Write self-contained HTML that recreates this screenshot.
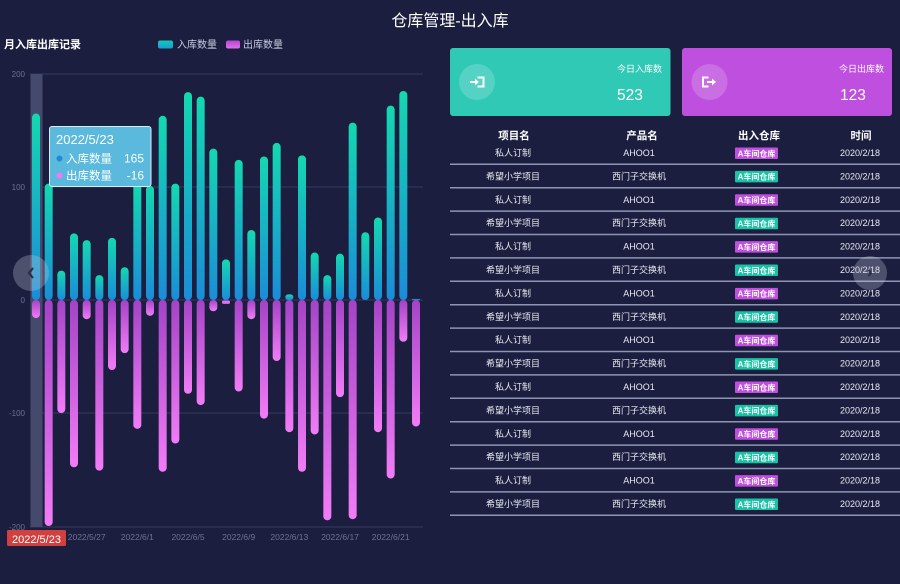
<!DOCTYPE html>
<html><head><meta charset="utf-8">
<style>
html,body{margin:0;padding:0;background:#1b1e3f;}
svg{display:block;font-family:"Liberation Sans","Noto Sans CJK SC",sans-serif;}
</style></head>
<body>
<svg width="900" height="584" viewBox="0 0 900 584" xmlns="http://www.w3.org/2000/svg">
<defs>
<linearGradient id="pg" x1="0" y1="0" x2="0" y2="1"><stop offset="0" stop-color="#14d8b0"/><stop offset="1" stop-color="#1a8cd8"/></linearGradient>
<linearGradient id="ng" x1="0" y1="0" x2="0" y2="1"><stop offset="0" stop-color="#a443c6"/><stop offset="1" stop-color="#f27cf7"/></linearGradient>
<linearGradient id="lg1" x1="0" y1="0" x2="0" y2="1"><stop offset="0" stop-color="#14c8b8"/><stop offset="1" stop-color="#1a9cd0"/></linearGradient>
<linearGradient id="lg2" x1="0" y1="0" x2="0" y2="1"><stop offset="0" stop-color="#b048d0"/><stop offset="1" stop-color="#e070ee"/></linearGradient>
</defs>
<rect width="900" height="584" fill="#1b1e3f"/>

<text x="450" y="26" fill="#ffffff" font-size="16" text-anchor="middle">仓库管理-出入库</text>
<text x="4" y="48" fill="#ffffff" font-size="11" font-weight="bold">月入库出库记录</text>
<rect x="158" y="40.5" width="15" height="8" rx="2" fill="url(#lg1)"/>
<text x="177" y="48" fill="#c9cce0" font-size="10">入库数量</text>
<rect x="226" y="40.5" width="14" height="8" rx="2" fill="url(#lg2)"/>
<text x="243" y="48" fill="#c9cce0" font-size="10">出库数量</text>

<!-- grid -->
<g stroke="#363a5e" stroke-width="1">
<line x1="30" y1="74" x2="423" y2="74"/>
<line x1="30" y1="187" x2="423" y2="187"/>
<line x1="30" y1="300" x2="423" y2="300"/>
<line x1="30" y1="413" x2="423" y2="413"/>
<line x1="30" y1="527" x2="423" y2="527"/>
</g>
<g fill="#6b7090" font-size="8" text-anchor="end">
<text x="25" y="77">200</text>
<text x="25" y="190">100</text>
<text x="25" y="303">0</text>
<text x="25" y="416">-100</text>
<text x="25" y="530">-200</text>
</g>
<rect x="30.5" y="74" width="12" height="453" fill="#454a6c"/>

<!-- positive bars -->
<g fill="url(#pg)">
<rect x="32" y="113.55" width="8" height="186.45" rx="4"/>
<rect x="44.67" y="183.61" width="8" height="116.39" rx="4"/>
<rect x="57.33" y="270.62" width="8" height="29.38" rx="4"/>
<rect x="70" y="233.33" width="8" height="66.67" rx="4"/>
<rect x="82.67" y="240.11" width="8" height="59.89" rx="4"/>
<rect x="95.33" y="275.14" width="8" height="24.86" rx="4"/>
<rect x="108" y="237.85" width="8" height="62.15" rx="4"/>
<rect x="120.67" y="267.23" width="8" height="32.77" rx="4"/>
<rect x="133.33" y="183.61" width="8" height="116.39" rx="4"/>
<rect x="146" y="185.87" width="8" height="114.13" rx="4"/>
<rect x="158.67" y="115.81" width="8" height="184.19" rx="4"/>
<rect x="171.33" y="183.61" width="8" height="116.39" rx="4"/>
<rect x="184" y="92.08" width="8" height="207.92" rx="4"/>
<rect x="196.67" y="96.6" width="8" height="203.4" rx="4"/>
<rect x="209.33" y="148.58" width="8" height="151.42" rx="4"/>
<rect x="222" y="259.32" width="8" height="40.68" rx="4"/>
<rect x="234.67" y="159.88" width="8" height="140.12" rx="4"/>
<rect x="247.33" y="229.94" width="8" height="70.06" rx="4"/>
<rect x="260" y="156.49" width="8" height="143.51" rx="4"/>
<rect x="272.67" y="142.93" width="8" height="157.07" rx="4"/>
<rect x="285.33" y="294.35" width="8" height="5.65" rx="2.8"/>
<rect x="298" y="155.36" width="8" height="144.64" rx="4"/>
<rect x="310.67" y="252.54" width="8" height="47.46" rx="4"/>
<rect x="323.33" y="275.14" width="8" height="24.86" rx="4"/>
<rect x="336" y="253.67" width="8" height="46.33" rx="4"/>
<rect x="348.67" y="122.59" width="8" height="177.41" rx="4"/>
<rect x="361.33" y="232.2" width="8" height="67.8" rx="4"/>
<rect x="374" y="217.51" width="8" height="82.49" rx="4"/>
<rect x="386.67" y="105.64" width="8" height="194.36" rx="4"/>
<rect x="399.33" y="90.95" width="8" height="209.05" rx="4"/>
<rect x="412" y="299" width="8" height="1.2" fill="#1a8cd8"/>
</g>
<!-- negative bars -->
<g fill="url(#ng)">
<rect x="32" y="300" width="8" height="18.08" rx="4"/>
<rect x="44.67" y="300" width="8" height="226" rx="4"/>
<rect x="57.33" y="300" width="8" height="113" rx="4"/>
<rect x="70" y="300" width="8" height="167.24" rx="4"/>
<rect x="82.67" y="300" width="8" height="19.21" rx="4"/>
<rect x="95.33" y="300" width="8" height="170.63" rx="4"/>
<rect x="108" y="300" width="8" height="70.06" rx="4"/>
<rect x="120.67" y="300" width="8" height="53.11" rx="4"/>
<rect x="133.33" y="300" width="8" height="128.82" rx="4"/>
<rect x="146" y="300" width="8" height="15.82" rx="4"/>
<rect x="158.67" y="300" width="8" height="171.76" rx="4"/>
<rect x="171.33" y="300" width="8" height="143.51" rx="4"/>
<rect x="184" y="300" width="8" height="93.79" rx="4"/>
<rect x="196.67" y="300" width="8" height="105.09" rx="4"/>
<rect x="209.33" y="300" width="8" height="11.3" rx="4"/>
<rect x="222" y="300.5" width="8" height="3.39" rx="1.5" fill="#e070ee"/>
<rect x="234.67" y="300" width="8" height="91.53" rx="4"/>
<rect x="247.33" y="300" width="8" height="19.21" rx="4"/>
<rect x="260" y="300" width="8" height="118.65" rx="4"/>
<rect x="272.67" y="300" width="8" height="61.02" rx="4"/>
<rect x="285.33" y="300" width="8" height="132.21" rx="4"/>
<rect x="298" y="300" width="8" height="171.76" rx="4"/>
<rect x="310.67" y="300" width="8" height="134.47" rx="4"/>
<rect x="323.33" y="300" width="8" height="220.35" rx="4"/>
<rect x="336" y="300" width="8" height="97.18" rx="4"/>
<rect x="348.67" y="300" width="8" height="219.22" rx="4"/>
<rect x="374" y="300" width="8" height="132.21" rx="4"/>
<rect x="386.67" y="300" width="8" height="178.54" rx="4"/>
<rect x="399.33" y="300" width="8" height="41.81" rx="4"/>
<rect x="412" y="300" width="8" height="126.56" rx="4"/>
</g>

<!-- x labels -->
<g fill="#6d7294" font-size="8.5" text-anchor="middle">
<text x="86.67" y="540">2022/5/27</text>
<text x="137.33" y="540">2022/6/1</text>
<text x="188" y="540">2022/6/5</text>
<text x="238.67" y="540">2022/6/9</text>
<text x="289.33" y="540">2022/6/13</text>
<text x="340" y="540">2022/6/17</text>
<text x="390.67" y="540">2022/6/21</text>
</g>
<rect x="7" y="530" width="59" height="16" rx="1.5" fill="#d0403f"/>
<text x="36.5" y="543" fill="#ffffff" font-size="11" text-anchor="middle">2022/5/23</text>

<!-- tooltip -->
<rect x="49.5" y="126.5" width="101.5" height="60" rx="2.5" fill="#5ab9dc" stroke="#d6eef8" stroke-width="1"/>
<text x="56" y="144" fill="#ffffff" font-size="13">2022/5/23</text>
<circle cx="59.5" cy="158.5" r="3" fill="#1a8cd8"/>
<text x="66" y="162.5" fill="#ffffff" font-size="11.5">入库数量</text>
<text x="144" y="162.5" fill="#ffffff" font-size="12" text-anchor="end">165</text>
<circle cx="59.5" cy="175.5" r="3" fill="#f07af0"/>
<text x="66" y="179.5" fill="#ffffff" font-size="11.5">出库数量</text>
<text x="144" y="179.5" fill="#ffffff" font-size="12" text-anchor="end">-16</text>

<!-- nav circles -->
<circle cx="31" cy="273" r="18" fill="#c8cad8" fill-opacity="0.3"/>
<path d="M33 268 L29 273 L33 278" stroke="#2a2d48" stroke-width="2.2" fill="none"/>

<!-- cards -->
<rect x="450" y="48" width="220.5" height="68" rx="3" fill="#30c9b6"/>
<circle cx="477" cy="82" r="18" fill="#ffffff" fill-opacity="0.18"/>
<path d="M477.5 77.5 H483.5 V86.5 H477.5" stroke="#ffffff" stroke-width="2" fill="none"/>
<line x1="470" y1="82" x2="476" y2="82" stroke="#ffffff" stroke-width="2"/>
<path d="M475 78.5 L479 82 L475 85.5 Z" fill="#ffffff"/>
<text x="662" y="72" fill="#ffffff" font-size="9" text-anchor="end">今日入库数</text>
<text x="617" y="100" fill="#ffffff" font-size="15.5">523</text>

<rect x="682" y="48" width="210" height="68" rx="3" fill="#bf4fde"/>
<circle cx="709.5" cy="82" r="18" fill="#ffffff" fill-opacity="0.18"/>
<path d="M708.5 77.5 H703 V86.5 H708.5" stroke="#ffffff" stroke-width="2" fill="none"/>
<line x1="707" y1="82" x2="713" y2="82" stroke="#ffffff" stroke-width="2"/>
<path d="M712 78.5 L716 82 L712 85.5 Z" fill="#ffffff"/>
<text x="884" y="72" fill="#ffffff" font-size="9" text-anchor="end">今日出库数</text>
<text x="840" y="100" fill="#ffffff" font-size="15.5">123</text>

<!-- table header -->
<g fill="#ffffff" font-size="10.5" font-weight="bold" text-anchor="middle">
<text x="514" y="139">项目名</text>
<text x="642" y="139">产品名</text>
<text x="759" y="139">出入仓库</text>
<text x="861" y="139">时间</text>
</g>

<!-- rows -->
<g stroke="#9094b4" stroke-width="1.5">
<line x1="450" y1="164.3" x2="900" y2="164.3"/>
<line x1="450" y1="187.7" x2="900" y2="187.7"/>
<line x1="450" y1="211.1" x2="900" y2="211.1"/>
<line x1="450" y1="234.5" x2="900" y2="234.5"/>
<line x1="450" y1="257.9" x2="900" y2="257.9"/>
<line x1="450" y1="281.3" x2="900" y2="281.3"/>
<line x1="450" y1="304.7" x2="900" y2="304.7"/>
<line x1="450" y1="328.1" x2="900" y2="328.1"/>
<line x1="450" y1="351.5" x2="900" y2="351.5"/>
<line x1="450" y1="374.9" x2="900" y2="374.9"/>
<line x1="450" y1="398.3" x2="900" y2="398.3"/>
<line x1="450" y1="421.7" x2="900" y2="421.7"/>
<line x1="450" y1="445.1" x2="900" y2="445.1"/>
<line x1="450" y1="468.5" x2="900" y2="468.5"/>
<line x1="450" y1="491.9" x2="900" y2="491.9"/>
<line x1="450" y1="515.3" x2="900" y2="515.3"/>
</g>

<g font-size="9" fill="#eaeaf2" text-anchor="middle">
<text x="513" y="156">私人订制</text><text x="639" y="156">AHOO1</text><text x="860" y="156">2020/2/18</text>
<text x="513" y="179.4">希望小学项目</text><text x="639" y="179.4">西门子交换机</text><text x="860" y="179.4">2020/2/18</text>
<text x="513" y="202.8">私人订制</text><text x="639" y="202.8">AHOO1</text><text x="860" y="202.8">2020/2/18</text>
<text x="513" y="226.2">希望小学项目</text><text x="639" y="226.2">西门子交换机</text><text x="860" y="226.2">2020/2/18</text>
<text x="513" y="249.6">私人订制</text><text x="639" y="249.6">AHOO1</text><text x="860" y="249.6">2020/2/18</text>
<text x="513" y="273">希望小学项目</text><text x="639" y="273">西门子交换机</text><text x="860" y="273">2020/2/18</text>
<text x="513" y="296.4">私人订制</text><text x="639" y="296.4">AHOO1</text><text x="860" y="296.4">2020/2/18</text>
<text x="513" y="319.8">希望小学项目</text><text x="639" y="319.8">西门子交换机</text><text x="860" y="319.8">2020/2/18</text>
<text x="513" y="343.2">私人订制</text><text x="639" y="343.2">AHOO1</text><text x="860" y="343.2">2020/2/18</text>
<text x="513" y="366.6">希望小学项目</text><text x="639" y="366.6">西门子交换机</text><text x="860" y="366.6">2020/2/18</text>
<text x="513" y="390">私人订制</text><text x="639" y="390">AHOO1</text><text x="860" y="390">2020/2/18</text>
<text x="513" y="413.4">希望小学项目</text><text x="639" y="413.4">西门子交换机</text><text x="860" y="413.4">2020/2/18</text>
<text x="513" y="436.8">私人订制</text><text x="639" y="436.8">AHOO1</text><text x="860" y="436.8">2020/2/18</text>
<text x="513" y="460.2">希望小学项目</text><text x="639" y="460.2">西门子交换机</text><text x="860" y="460.2">2020/2/18</text>
<text x="513" y="483.6">私人订制</text><text x="639" y="483.6">AHOO1</text><text x="860" y="483.6">2020/2/18</text>
<text x="513" y="507">希望小学项目</text><text x="639" y="507">西门子交换机</text><text x="860" y="507">2020/2/18</text>
</g>

<!-- badges -->
<g>
<rect x="735" y="147.5" width="43" height="11.5" rx="1" fill="#c04ede"/>
<rect x="735" y="170.9" width="43" height="11.5" rx="1" fill="#18c2a4"/>
<rect x="735" y="194.3" width="43" height="11.5" rx="1" fill="#c04ede"/>
<rect x="735" y="217.7" width="43" height="11.5" rx="1" fill="#18c2a4"/>
<rect x="735" y="241.1" width="43" height="11.5" rx="1" fill="#c04ede"/>
<rect x="735" y="264.5" width="43" height="11.5" rx="1" fill="#18c2a4"/>
<rect x="735" y="287.9" width="43" height="11.5" rx="1" fill="#c04ede"/>
<rect x="735" y="311.3" width="43" height="11.5" rx="1" fill="#18c2a4"/>
<rect x="735" y="334.7" width="43" height="11.5" rx="1" fill="#c04ede"/>
<rect x="735" y="358.1" width="43" height="11.5" rx="1" fill="#18c2a4"/>
<rect x="735" y="381.5" width="43" height="11.5" rx="1" fill="#c04ede"/>
<rect x="735" y="404.9" width="43" height="11.5" rx="1" fill="#18c2a4"/>
<rect x="735" y="428.3" width="43" height="11.5" rx="1" fill="#c04ede"/>
<rect x="735" y="451.7" width="43" height="11.5" rx="1" fill="#18c2a4"/>
<rect x="735" y="475.1" width="43" height="11.5" rx="1" fill="#c04ede"/>
<rect x="735" y="498.5" width="43" height="11.5" rx="1" fill="#18c2a4"/>
</g>
<g font-size="8" font-weight="bold" fill="#ffffff" text-anchor="middle">
<text x="756.5" y="156.3">A车间仓库</text>
<text x="756.5" y="179.7">A车间仓库</text>
<text x="756.5" y="203.1">A车间仓库</text>
<text x="756.5" y="226.5">A车间仓库</text>
<text x="756.5" y="249.9">A车间仓库</text>
<text x="756.5" y="273.3">A车间仓库</text>
<text x="756.5" y="296.7">A车间仓库</text>
<text x="756.5" y="320.1">A车间仓库</text>
<text x="756.5" y="343.5">A车间仓库</text>
<text x="756.5" y="366.9">A车间仓库</text>
<text x="756.5" y="390.3">A车间仓库</text>
<text x="756.5" y="413.7">A车间仓库</text>
<text x="756.5" y="437.1">A车间仓库</text>
<text x="756.5" y="460.5">A车间仓库</text>
<text x="756.5" y="483.9">A车间仓库</text>
<text x="756.5" y="507.3">A车间仓库</text>
</g>

<circle cx="870" cy="273" r="17" fill="#c8cad8" fill-opacity="0.3"/>
<path d="M868.5 270 L871 273 L868.5 276" stroke="#2a2d48" stroke-width="1.8" fill="none"/>
</svg>
</body></html>
